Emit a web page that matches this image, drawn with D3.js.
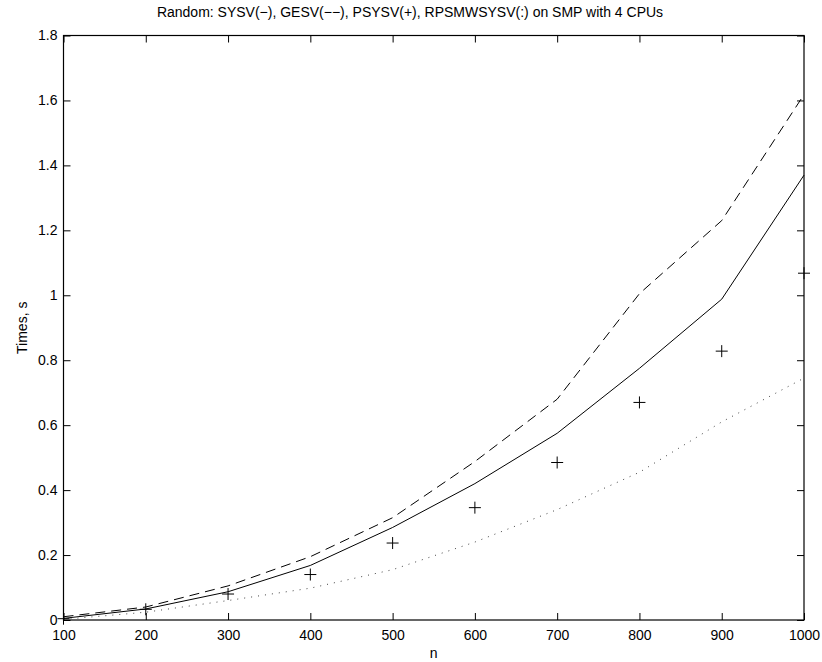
<!DOCTYPE html>
<html>
<head>
<meta charset="utf-8">
<script src="https://cdn.jsdelivr.net/npm/d3@7"></script>
<style>
  html, body { margin: 0; padding: 0; background: #fff; }
  svg { display: block; }
  text { font-family: "Liberation Sans", Arial, Helvetica, sans-serif; fill: #000; }
</style>
</head>
<body>
<svg id="chart" width="822" height="662"></svg>
<script>
// Problem sizes n
const sizes = [100, 200, 300, 400, 500, 600, 700, 800, 900, 1000];
// Run times in seconds for each solver
const sysv      = [0.005, 0.034, 0.087, 0.168, 0.285, 0.420, 0.575, 0.775, 0.988, 1.370];
const gesv      = [0.010, 0.040, 0.105, 0.195, 0.315, 0.488, 0.680, 1.005, 1.230, 1.618];
const psysv     = [0.004, 0.033, 0.080, 0.140, 0.237, 0.346, 0.485, 0.670, 0.828, 1.068];
const rpsmwsysv = [0.002, 0.024, 0.060, 0.098, 0.155, 0.240, 0.340, 0.455, 0.610, 0.745];
const xTicks = [100, 200, 300, 400, 500, 600, 700, 800, 900, 1000];
const yTicks = [0, 0.2, 0.4, 0.6, 0.8, 1, 1.2, 1.4, 1.6, 1.8];

const svg = d3.select("#chart");
const plotLeft = 63.5, plotRight = 804, plotTop = 35.5, plotBottom = 620;

const x = d3.scaleLinear().domain([100, 1000]).range([plotLeft, plotRight]);
const y = d3.scaleLinear().domain([0, 1.8]).range([plotBottom, plotTop]);

const tickLen = 7;
const fmt = d => String(d);

// Axes with inward ticks on all four sides (boxed frame)
const gx = svg.append("g").attr("transform", `translate(0,${plotBottom})`)
  .call(d3.axisBottom(x).tickValues(xTicks).tickFormat(fmt).tickSizeInner(-tickLen).tickSizeOuter(0).tickPadding(10));
const gxTop = svg.append("g").attr("transform", `translate(0,${plotTop})`)
  .call(d3.axisTop(x).tickValues(xTicks).tickFormat("").tickSizeInner(-tickLen).tickSizeOuter(0));
const gy = svg.append("g").attr("transform", `translate(${plotLeft},0)`)
  .call(d3.axisLeft(y).tickValues(yTicks).tickFormat(fmt).tickSizeInner(-tickLen).tickSizeOuter(0).tickPadding(6));
const gyRight = svg.append("g").attr("transform", `translate(${plotRight},0)`)
  .call(d3.axisRight(y).tickValues(yTicks).tickFormat("").tickSizeInner(-tickLen).tickSizeOuter(0));

[gx, gxTop, gy, gyRight].forEach(g => {
  g.select(".domain").remove();
  g.selectAll(".tick line").attr("stroke", "#000").attr("stroke-width", 1);
  g.selectAll("text").style("font-size", "14px")
    .style("font-family", "'Liberation Sans', Arial, Helvetica, sans-serif").attr("fill", "#000");
});

// Frame
svg.append("rect")
  .attr("x", plotLeft).attr("y", plotTop)
  .attr("width", plotRight - plotLeft).attr("height", plotBottom - plotTop)
  .attr("fill", "none").attr("stroke", "#000").attr("stroke-width", 1.2);

const plot = svg.append("g");
const line = d3.line().x((d, i) => x(sizes[i])).y(d => y(d));

plot.append("path").datum(sysv).attr("d", line)
  .attr("fill", "none").attr("stroke", "#000").attr("stroke-width", 1);
plot.append("path").datum(gesv).attr("d", line)
  .attr("fill", "none").attr("stroke", "#000").attr("stroke-width", 1)
  .attr("stroke-dasharray", "10,6");
plot.append("path").datum(rpsmwsysv).attr("d", line)
  .attr("fill", "none").attr("stroke", "#444").attr("stroke-width", 1)
  .attr("stroke-dasharray", "1,6");

// Plus markers
const m = 6;
plot.selectAll("path.plus").data(psysv).enter().append("path")
  .attr("class", "plus")
  .attr("d", (d, i) => {
    const cx = x(sizes[i]), cy = y(d);
    return `M${cx - m},${cy}H${cx + m}M${cx},${cy - m}V${cy + m}`;
  })
  .attr("stroke", "#000").attr("stroke-width", 1).attr("fill", "none");

// Title and axis labels
svg.append("text")
  .attr("x", 410).attr("y", 17)
  .attr("text-anchor", "middle").style("font-size", "14px")
  .text("Random: SYSV(−), GESV(−−), PSYSV(+), RPSMWSYSV(:) on SMP with 4 CPUs");

svg.append("text")
  .attr("x", (plotLeft + plotRight) / 2).attr("y", 658)
  .attr("text-anchor", "middle").style("font-size", "14px")
  .text("n");

svg.append("text")
  .attr("transform", `translate(27,${(plotTop + plotBottom) / 2}) rotate(-90)`)
  .attr("text-anchor", "middle").style("font-size", "14px")
  .text("Times, s");
</script>
</body>
</html>
